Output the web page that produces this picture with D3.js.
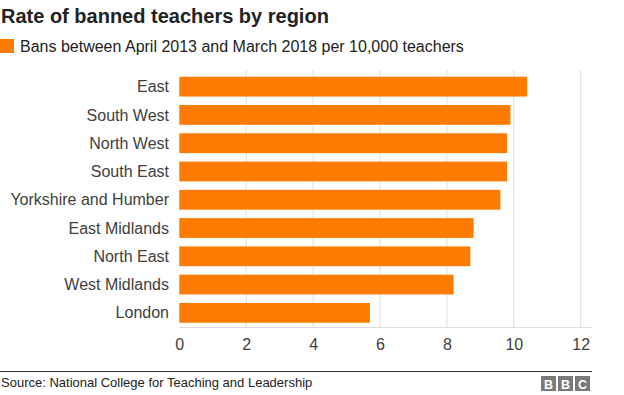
<!DOCTYPE html>
<html>
<head>
<meta charset="utf-8">
<script src="https://cdn.jsdelivr.net/npm/d3@7"></script>
<style>
  body { margin: 0; background: #fff; }
  text { font-family: "Liberation Sans", Arial, Helvetica, sans-serif; }
</style>
</head>
<body>
<svg></svg>
<script>
// Rate of banned teachers by region (BBC style bar chart)

let width = 624, height = 395;

let regions = ["East", "South West", "North West", "South East", "Yorkshire and Humber",
  "East Midlands", "North East", "West Midlands", "London"];
let rates = [10.4, 9.9, 9.8, 9.8, 9.6, 8.8, 8.7, 8.2, 5.7];
let xTicks = [0, 2, 4, 6, 8, 10, 12];

let data = regions.map((r, i) => ({region: r, value: rates[i]}));

let svg = d3.select("svg")
  .attr("width", width)
  .attr("height", height);

let x = d3.scaleLinear()
  .domain([0, 12])
  .range([179.3, 580.7]);

let y = d3.scaleBand()
  .domain(regions)
  .range([72.5, 327])
  .paddingInner(0.3)
  .paddingOuter(0.15);

// title + legend
svg.append("text")
  .attr("x", 1)
  .attr("y", 23)
  .style("font-size", "20px")
  .style("font-weight", "bold")
  .style("fill", "#222")
  .text("Rate of banned teachers by region");

svg.append("rect")
  .attr("x", 0).attr("y", 39)
  .attr("width", 14).attr("height", 14)
  .attr("fill", "#fd7c00");

svg.append("text")
  .attr("x", 20)
  .attr("y", 52)
  .style("font-size", "16px")
  .style("fill", "#222")
  .text("Bans between April 2013 and March 2018 per 10,000 teachers");

// gridlines
svg.append("g")
  .selectAll("line")
  .data(xTicks.slice(1))
  .enter()
  .append("line")
  .attr("x1", d => x(d)).attr("x2", d => x(d))
  .attr("y1", 70).attr("y2", 327)
  .attr("stroke", "#dcdcdc")
  .attr("stroke-width", 1);

// bars
svg.append("g")
  .selectAll("rect")
  .data(data)
  .enter()
  .append("rect")
  .attr("x", x(0))
  .attr("y", d => y(d.region))
  .attr("width", d => x(d.value) - x(0))
  .attr("height", y.bandwidth())
  .attr("fill", "#fd7c00");

// category labels
svg.append("g")
  .selectAll("text")
  .data(regions)
  .enter()
  .append("text")
  .attr("x", 169)
  .attr("y", d => y(d) + y.bandwidth() / 2)
  .attr("dy", "0.35em")
  .attr("text-anchor", "end")
  .style("font-size", "16px")
  .style("fill", "#404040")
  .text(d => d);

// x axis
let xAxis = svg.append("g")
  .attr("transform", "translate(0,327)")
  .call(d3.axisBottom(x).tickValues(xTicks).tickSize(0).tickPadding(12));
xAxis.select(".domain").remove();
xAxis.selectAll("text")
  .style("font-size", "16px")
  .style("font-family", "'Liberation Sans', Arial, sans-serif")
  .style("fill", "#404040");

svg.append("line")
  .attr("x1", 179).attr("x2", 592)
  .attr("y1", 327.5).attr("y2", 327.5)
  .attr("stroke", "#dcdcdc");

// footer
svg.append("line")
  .attr("x1", 0).attr("x2", 592)
  .attr("y1", 371.5).attr("y2", 371.5)
  .attr("stroke", "#333")
  .attr("stroke-width", 1);

svg.append("text")
  .attr("x", 1)
  .attr("y", 387)
  .style("font-size", "13px")
  .style("fill", "#222")
  .text("Source: National College for Teaching and Leadership");

let logo = svg.append("g");
["B", "B", "C"].forEach((l, i) => {
  logo.append("rect")
    .attr("x", 541 + i * 17).attr("y", 376)
    .attr("width", 15).attr("height", 15)
    .attr("fill", "#7a7a7a");
  logo.append("text")
    .attr("x", 541 + i * 17 + 7.5).attr("y", 388.5)
    .attr("text-anchor", "middle")
    .style("font-size", "12.5px")
    .style("font-weight", "bold")
    .style("fill", "#fff")
    .text(l);
});
</script>
</body>
</html>
